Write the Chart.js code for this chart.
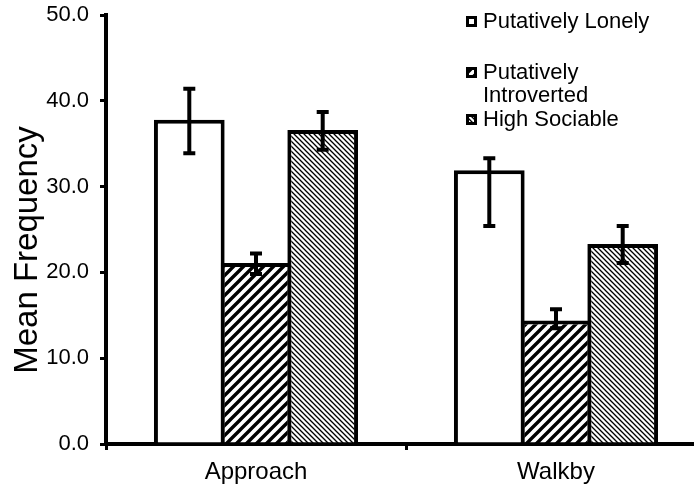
<!DOCTYPE html>
<html lang="en">
  <head>
    <meta charset="UTF-8" />
    <title>Mean Frequency by Group</title>
    <script src="https://cdn.jsdelivr.net/npm/chart.js"></script>
    <style>
      html, body { margin: 0; padding: 0; background: #fff; overflow: hidden; }
      #wrap { width: 706px; height: 493px; }
    </style>
  </head>
  <body>
    <div id="wrap"><canvas id="chart" width="706" height="493"></canvas></div>

    <script>
      // categories and series
      const categories = ["Approach", "Walkby"];
      const seriesNames = ["Putatively Lonely", "Putatively Introverted", "High Sociable"];
      const legendLines = [["Putatively Lonely"], ["Putatively", "Introverted"], ["High Sociable"]];
      const yTitle = "Mean Frequency";

      const lonely = [37.8, 31.9];
      const introverted = [21.1, 14.4];
      const sociable = [36.6, 23.3];

      // error bar ends (upper / lower)
      const lonelyHigh = [41.4, 33.3];
      const lonelyLow = [33.9, 25.4];
      const introvertedHigh = [22.2, 15.7];
      const introvertedLow = [19.8, 13.5];
      const sociableHigh = [38.7, 25.4];
      const sociableLow = [34.3, 21.1];

      const yTicks = [0, 10, 20, 30, 40, 50];

      const FONT = "'Liberation Sans', Arial, sans-serif";

      // hatch patterns
      function makeHatch(size, width, dir) {
        const c = document.createElement("canvas");
        c.width = size;
        c.height = size;
        const g = c.getContext("2d");
        g.fillStyle = "#fff";
        g.fillRect(0, 0, size, size);
        g.strokeStyle = "#000";
        g.lineWidth = width;
        g.beginPath();
        if (dir === "/") {
          g.moveTo(-size, 2 * size); g.lineTo(2 * size, -size);
          g.moveTo(-size, size); g.lineTo(size, -size);
          g.moveTo(0, 2 * size); g.lineTo(2 * size, 0);
        } else {
          g.moveTo(-size, -size); g.lineTo(2 * size, 2 * size);
          g.moveTo(-size, 0); g.lineTo(size, 2 * size);
          g.moveTo(0, -size); g.lineTo(2 * size, size);
        }
        g.stroke();
        return g.createPattern(c, "repeat");
      }

      const ctx = document.getElementById("chart").getContext("2d");
      const wideHatch = makeHatch(10, 3.4, "/");
      const fineHatch = makeHatch(5, 1.3, "\\");
      const fills = ["#fff", wideHatch, fineHatch];
      const highs = [lonelyHigh, introvertedHigh, sociableHigh];
      const lows = [lonelyLow, introvertedLow, sociableLow];

      // draws error bars on top of the bars
      const errorBars = {
        id: "errorBars",
        afterDatasetsDraw(chart) {
          const c = chart.ctx;
          const y = chart.scales.y;
          c.save();
          c.strokeStyle = "#000";
          c.lineWidth = 4;
          chart.data.datasets.forEach((ds, i) => {
            chart.getDatasetMeta(i).data.forEach((bar, j) => {
              const x = bar.x;
              const yh = y.getPixelForValue(highs[i][j]);
              const yl = y.getPixelForValue(lows[i][j]);
              c.beginPath();
              c.moveTo(x, yh); c.lineTo(x, yl);
              c.moveTo(x - 6, yh); c.lineTo(x + 6, yh);
              c.moveTo(x - 6, yl); c.lineTo(x + 6, yl);
              c.stroke();
            });
          });
          c.restore();
        },
      };

      // legend in the upper right (wrapped lines) + rotated y title
      const sideLegend = {
        id: "sideLegend",
        afterDraw(chart) {
          const c = chart.ctx;
          const boxX = 466, textX = 483;
          const rows = [22, 73, 120];
          c.save();
          c.font = "22px " + FONT;
          c.textBaseline = "middle";
          legendLines.forEach((lines, i) => {
            const y0 = rows[i];
            c.fillStyle = "#000";
            c.fillRect(boxX, y0 - 6, 11, 11);
            c.fillStyle = fills[i];
            c.fillRect(boxX + 3, y0 - 3, 5, 5);
            c.fillStyle = "#000";
            lines.forEach((t, k) => c.fillText(t, textX, y0 + k * 23));
          });
          c.translate(28, 250);
          c.rotate(-Math.PI / 2);
          c.font = "33px " + FONT;
          c.textAlign = "center";
          c.fillText(yTitle, 0, 0);
          c.restore();
        },
      };

      new Chart(ctx, {
        type: "bar",
        data: {
          labels: categories,
          datasets: [lonely, introverted, sociable].map((d, i) => ({
            label: seriesNames[i],
            data: d,
            backgroundColor: fills[i],
            borderColor: "#000",
            borderWidth: 4,
            borderSkipped: "start",
            categoryPercentage: 0.667,
            barPercentage: 1.06,
          })),
        },
        options: {
          responsive: false,
          animation: false,
          devicePixelRatio: 1,
          layout: { padding: { top: 15, right: 0, left: 0, bottom: 0 } },
          plugins: { legend: { display: false }, tooltip: { enabled: false } },
          scales: {
            x: {
              afterFit: (s) => { s.height = 49; s.paddingLeft = 0; s.paddingRight = 0; },
              grid: { display: true, drawOnChartArea: false, drawTicks: true, tickLength: 6, lineWidth: 3, color: "#000" },
              border: { display: true, width: 4, color: "#000" },
              ticks: { color: "#000", font: { family: FONT, size: 24 }, padding: 8 },
            },
            y: {
              min: 0,
              max: 50,
              afterFit: (s) => { s.width = 106; s.paddingTop = 0; s.paddingBottom = 0; },
              afterBuildTicks: (s) => { s.ticks = yTicks.map((v) => ({ value: v })); },
              grid: { display: true, drawOnChartArea: false, drawTicks: true, tickLength: 6, lineWidth: 3, color: "#000" },
              border: { display: true, width: 4, color: "#000" },
              ticks: {
                color: "#000",
                font: { family: FONT, size: 22 },
                padding: 11,
                callback: (v) => Number(v).toFixed(1),
              },
            },
          },
        },
        plugins: [errorBars, sideLegend],
      });
    </script>
  </body>
</html>
